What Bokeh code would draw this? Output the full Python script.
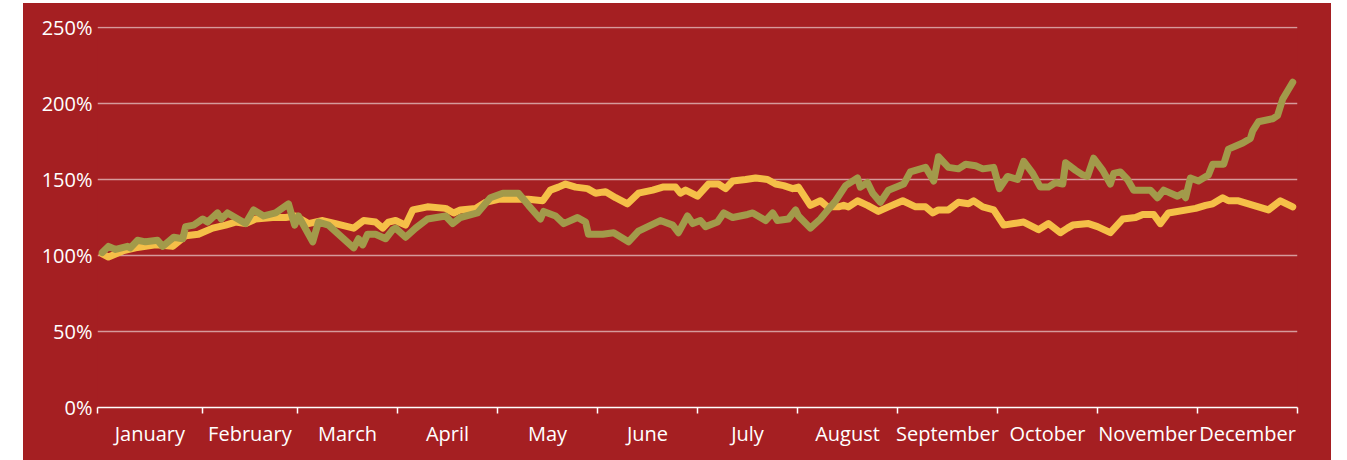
from bokeh.plotting import figure
from bokeh.models import FixedTicker, PrintfTickFormatter, Range1d, Spacer
from bokeh.layouts import row, column
from bokeh.embed import file_html
from bokeh.resources import INLINE

# ---- data (x = trading day of the year, y = percent of starting value) ----
month_names = ["January", "February", "March", "April", "May", "June", "July",
               "August", "September", "October", "November", "December"]
month_bounds = [0, 22, 42, 63, 84, 105, 126, 147, 168, 189, 210, 231, 252]
y_ticks = [0, 50, 100, 150, 200, 250]

yellow_day = [1, 2.3, 5.3, 8.0, 12.2, 15.8, 18.5, 21.2, 24.2, 26.9, 29.0, 31.1, 33.2, 36.8,
              39.5, 41.6, 44.3, 47.3, 50.0, 53.8, 55.9, 58.4, 59.9, 61.1, 62.6, 64.7, 66.2,
              69.3, 73.1, 74.8, 76.2, 79.4, 81.5, 84.2, 88.4, 90.5, 93.5, 95.1, 96.8, 98.3,
              100.4, 102.9, 104.6, 106.7, 108.8, 111.3, 113.6, 116.6, 118.7, 121.4, 122.4,
              123.5, 126.0, 128.3, 130.4, 131.9, 133.4, 136.1, 138.2, 140.7, 142.4, 144.1,
              146.0, 147.2, 149.7, 151.8, 153.3, 155.6, 156.7, 157.7, 159.6, 161.7, 164.0,
              166.1, 169.1, 171.8, 173.9, 175.4, 176.6, 178.7, 180.8, 182.9, 184.0, 185.9,
              188.2, 190.3, 192.4, 194.5, 197.6, 199.7, 202.2, 203.7, 204.8, 208.1, 210.0,
              212.7, 215.3, 218.0, 219.5, 221.8, 223.2, 224.9, 230.6, 232.7, 234.2, 236.3,
              237.5, 239.6, 241.7, 243.8, 245.9, 248.4, 251]
yellow_val = [101, 99, 103, 105, 107, 106, 113, 114, 118, 120, 122, 121, 124, 125,
              125, 126, 121, 123, 121, 118, 123, 122, 118, 122, 123, 120, 130,
              132, 131, 128, 130, 131, 135, 137, 137, 137, 136, 143, 145, 147,
              145, 144, 141, 142, 138, 134, 141, 143, 145, 145, 141,
              143, 139, 147, 147, 144, 149, 150, 151, 150, 147, 146,
              144, 145, 133, 136, 132, 132, 133, 132, 136, 133, 129,
              132, 136, 132, 132, 128, 130, 130, 135, 134, 136, 132,
              130, 120, 121, 122, 117, 121, 115, 118, 120, 121, 119,
              115, 124, 125, 127, 127, 121, 128, 131, 133, 134, 138,
              136, 136, 134, 132, 130, 136, 132]

olive_day = [1, 2.3, 3.8, 6.3, 6.9, 8.4, 10.1, 12.6, 13.7, 16.0, 17.9, 18.5, 20.2, 22.1,
             23.1, 25.2, 26.0, 27.3, 31.1, 32.8, 34.9, 37.4, 40.1, 41.4, 42.2, 45.2, 46.4,
             48.5, 51.7, 53.8, 54.8, 55.7, 56.7, 58.4, 60.5, 62.0, 62.6, 64.7, 66.8, 69.3,
             73.1, 74.6, 76.2, 79.8, 82.5, 85.1, 88.4, 90.5, 93.0, 93.7, 96.2, 97.9, 100.8,
             102.5, 103.1, 106.1, 108.4, 111.5, 113.6, 118.2, 120.8, 122.0, 123.9, 125.0,
             126.6, 127.7, 130.2, 131.5, 133.4, 136.5, 137.6, 140.3, 141.8, 142.8, 145.1,
             146.6, 147.2, 149.7, 151.8, 155.0, 157.1, 159.6, 160.2, 161.7, 162.8, 164.4,
             166.1, 169.3, 170.7, 173.9, 175.6, 176.6, 178.7, 180.8, 182.3, 184.4, 185.9,
             188.2, 189.4, 191.1, 193.2, 194.5, 196.4, 198.0, 199.7, 201.2, 202.7, 203.3,
             205.4, 206.9, 207.9, 209.2, 211.1, 212.7, 213.4, 214.8, 216.3, 217.6, 221.1,
             222.6, 223.9, 226.8, 227.9, 228.5, 229.5, 231.2, 233.3, 234.2, 236.5, 237.5,
             240.5, 242.1, 242.6, 243.8, 246.8, 247.8, 248.9, 251]
olive_val = [102, 106, 104, 106, 105, 110, 109, 110, 106, 112, 111, 119, 120, 124,
             122, 128, 124, 128, 121, 130, 126, 128, 134, 120, 126, 109, 122,
             120, 111, 105, 111, 107, 114, 114, 111, 117, 118, 112, 118, 124,
             126, 121, 125, 128, 138, 141, 141, 133, 124, 129, 126, 121, 125,
             122, 114, 114, 115, 109, 116, 123, 120, 115, 126, 121,
             123, 119, 122, 128, 125, 127, 128, 123, 128, 123, 124,
             130, 126, 118, 124, 136, 146, 151, 145, 148, 141, 135,
             143, 147, 155, 158, 149, 165, 158, 157, 160, 159, 157,
             158, 144, 152, 150, 162, 154, 145, 145, 148, 147, 161,
             156, 153, 152, 164, 156, 147, 154, 155, 150, 143, 143,
             138, 143, 139, 141, 138, 151, 149, 153, 160, 160, 170,
             174, 177, 182, 188, 190, 192, 203, 214]

# ---- styling ----
BG = "#a51f22"
YELLOW = "#f5bf48"
OLIVE = "#a29a4a"
FONT = "Open Sans"

p = figure(width=1308, height=457, output_backend="svg", toolbar_location=None,
           x_range=Range1d(0, 252), y_range=Range1d(0, 250.66),
           min_border_left=74, min_border_right=34, min_border_top=23, min_border_bottom=53)
p.styles = {"background-color": BG}
p.background_fill_color = BG
p.border_fill_color = BG
p.outline_line_color = None

p.line(yellow_day, yellow_val, line_color=YELLOW, line_width=7,
       line_join="round", line_cap="round")
p.line(olive_day, olive_val, line_color=OLIVE, line_width=7,
       line_join="round", line_cap="round")

# x axis: month names centred between month boundary ticks
mids = [(month_bounds[i] + month_bounds[i + 1]) / 2 for i in range(12)]
p.xaxis.ticker = FixedTicker(ticks=mids, minor_ticks=month_bounds)
p.xaxis.major_label_overrides = {m: n for m, n in zip(mids, month_names)}
p.xaxis.major_tick_line_color = None
p.xaxis.major_tick_out = 0
p.xaxis.major_tick_in = 0
p.xaxis.minor_tick_line_color = "white"
p.xaxis.minor_tick_line_width = 1.5
p.xaxis.minor_tick_out = 6
p.xaxis.minor_tick_in = 0
p.xaxis.axis_line_color = "white"
p.xaxis.axis_line_width = 1.5
p.xaxis.major_label_text_color = "white"
p.xaxis.major_label_text_font = FONT
p.xaxis.major_label_text_font_size = "20px"
p.xaxis.major_label_standoff = 6

p.yaxis.ticker = FixedTicker(ticks=y_ticks)
p.yaxis.formatter = PrintfTickFormatter(format="%d%%")
p.yaxis.axis_line_color = None
p.yaxis.major_tick_line_color = None
p.yaxis.major_tick_out = 0
p.yaxis.major_tick_in = 0
p.yaxis.minor_tick_line_color = None
p.yaxis.major_label_text_color = "white"
p.yaxis.major_label_text_font = FONT
p.yaxis.major_label_text_font_size = "20px"
p.yaxis.major_label_standoff = 5

p.xgrid.grid_line_color = None
p.ygrid.ticker = FixedTicker(ticks=y_ticks)
p.ygrid.grid_line_color = "white"
p.ygrid.grid_line_alpha = 0.55
p.ygrid.grid_line_width = 1.5

layout = column(Spacer(width=10, height=3),
                row(Spacer(width=23, height=457), p))
open("out.html", "w").write(file_html(layout, INLINE))
